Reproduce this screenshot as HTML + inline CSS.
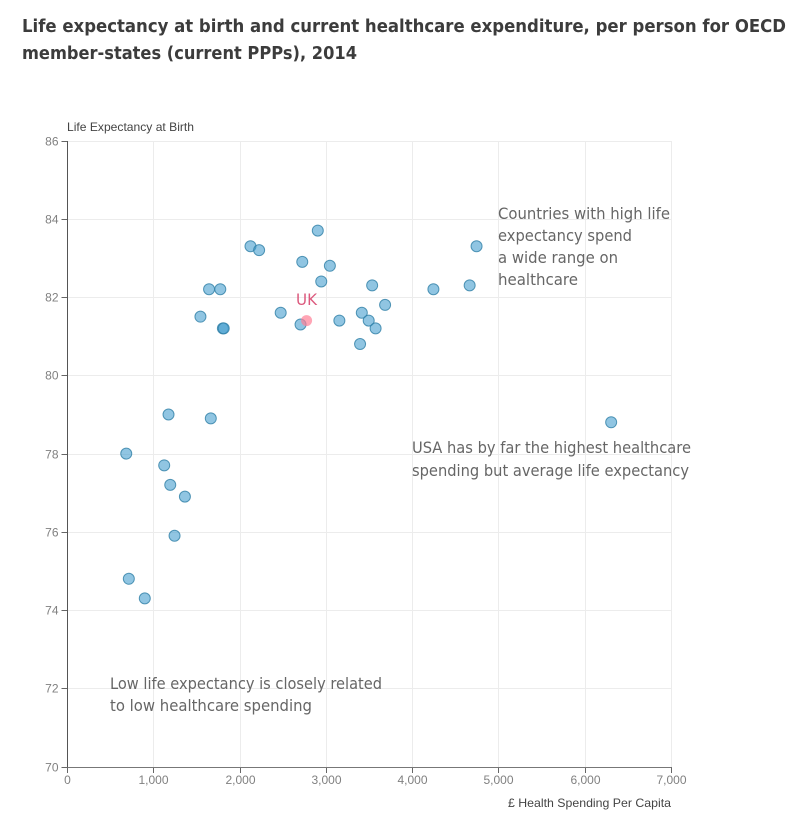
<!DOCTYPE html>
<html lang="en">
<head>
<meta charset="utf-8">
<title>Life expectancy and healthcare expenditure</title>
<style>
html,body{margin:0;padding:0;background:#fff;}
svg{display:block;}
.title{font-family:"DejaVu Sans","Liberation Sans",sans-serif;font-weight:700;font-size:18px;fill:#3c3c3c;}
.note{font-family:"DejaVu Sans","Liberation Sans",sans-serif;font-size:16px;fill:#666;}
.tick{font-family:"Liberation Sans",sans-serif;font-size:12px;fill:#808080;}
.axis-title{font-family:"Liberation Sans",sans-serif;font-size:12px;fill:#444;}
</style>
</head>
<body>
<svg id="chart" width="811" height="827" viewBox="0 0 811 827" xmlns="http://www.w3.org/2000/svg">
  <text class="title" x="22" y="32" textLength="764" lengthAdjust="spacingAndGlyphs">Life expectancy at birth and current healthcare expenditure, per person for OECD</text>
  <text class="title" x="22" y="59" textLength="335" lengthAdjust="spacingAndGlyphs">member-states (current PPPs), 2014</text>
  <g id="grid"></g>
  <g id="axes"></g>
  <g id="points"></g>
  <text class="axis-title" x="67" y="131" textLength="127" lengthAdjust="spacingAndGlyphs">Life Expectancy at Birth</text>
  <text class="axis-title" x="508" y="807" textLength="163" lengthAdjust="spacingAndGlyphs">£ Health Spending Per Capita</text>
  <g>
    <text class="note" x="498" y="219" textLength="172" lengthAdjust="spacingAndGlyphs">Countries with high life</text>
    <text class="note" x="498" y="241" textLength="134" lengthAdjust="spacingAndGlyphs">expectancy spend</text>
    <text class="note" x="498" y="263" textLength="120" lengthAdjust="spacingAndGlyphs">a wide range on</text>
    <text class="note" x="498" y="285" textLength="80" lengthAdjust="spacingAndGlyphs">healthcare</text>
  </g>
  <g>
    <text class="note" x="412" y="453" textLength="279" lengthAdjust="spacingAndGlyphs">USA has by far the highest healthcare</text>
    <text class="note" x="412" y="476" textLength="277" lengthAdjust="spacingAndGlyphs">spending but average life expectancy</text>
  </g>
  <g>
    <text class="note" x="110" y="689" textLength="272" lengthAdjust="spacingAndGlyphs">Low life expectancy is closely related</text>
    <text class="note" x="110" y="711" textLength="202" lengthAdjust="spacingAndGlyphs">to low healthcare spending</text>
  </g>
  <text class="note" x="296" y="305" textLength="21" lengthAdjust="spacingAndGlyphs" style="fill:#dc5a7e">UK</text>
</svg>
<script>
const xTicks = [0, 1000, 2000, 3000, 4000, 5000, 6000, 7000];
const yTicks = [70, 72, 74, 76, 78, 80, 82, 84, 86];
const spending = [690, 720, 905, 1130, 1180, 1200, 1250, 1370, 1550, 1650, 1670, 1780, 1810, 1820, 2130, 2230, 2480, 2710, 2730, 2910, 2950, 3050, 3160, 3400, 3420, 3500, 3540, 3580, 3690, 4250, 4670, 4750, 6310];
const lifeExpectancy = [78.0, 74.8, 74.3, 77.7, 79.0, 77.2, 75.9, 76.9, 81.5, 82.2, 78.9, 82.2, 81.2, 81.2, 83.3, 83.2, 81.6, 81.3, 82.9, 83.7, 82.4, 82.8, 81.4, 80.8, 81.6, 81.4, 82.3, 81.2, 81.8, 82.2, 82.3, 83.3, 78.8];
const ukSpending = [2780];
const ukLifeExpectancy = [81.4];

const NS = 'http://www.w3.org/2000/svg';
const left = 67.5, right = 671.5, top_ = 141, bottom = 767;
function xScale(v) { return left + (v - 0) / 7000 * (right - left); }
function yScale(v) { return bottom - (v - 70) / 16 * (bottom - top_); }
function make(tag, attrs, parent) {
  const el = document.createElementNS(NS, tag);
  for (const k in attrs) el.setAttribute(k, attrs[k]);
  parent.appendChild(el);
  return el;
}
const grid = document.getElementById('grid');
const axes = document.getElementById('axes');
const points = document.getElementById('points');

xTicks.forEach(function (t) {
  const x = Math.round(xScale(t) - 0.5) + 0.5;
  if (t > 0) {
    const g = make('line', {x1: x, x2: x, y1: top_, y2: bottom, stroke: '#ececec', 'stroke-width': 1}, grid);
    
    
  }
  const m = make('line', {x1: x, x2: x, y1: bottom, y2: bottom + 6, stroke: '#666', 'stroke-width': 1}, axes);
  
  
  const l = make('text', {x: x, y: bottom + 17, 'text-anchor': 'middle', 'class': 'tick'}, axes);
  l.textContent = t.toLocaleString('en-US');
  
  
});
yTicks.forEach(function (t) {
  const y = Math.floor(yScale(t)) + 0.5;
  if (t > 70) {
    const g = make('line', {x1: left, x2: right, y1: y, y2: y, stroke: '#ececec', 'stroke-width': 1}, grid);
    
    
  }
  const m = make('line', {x1: left - 6, x2: left, y1: y, y2: y, stroke: '#666', 'stroke-width': 1}, axes);
  
  
  const l = make('text', {x: left - 9, y: y + 4, 'text-anchor': 'end', 'class': 'tick'}, axes);
  l.textContent = t;
  
  
});
const yAxis = make('line', {x1: left, x2: left, y1: top_, y2: bottom + 0.5, stroke: '#555', 'stroke-width': 1}, axes);


const xAxis = make('line', {x1: left, x2: right, y1: bottom + 0.5, y2: bottom + 0.5, stroke: '#777', 'stroke-width': 1}, axes);



spending.forEach(function (v, i) {
  const c = make('circle', {cx: xScale(v) - 0.8, cy: yScale(lifeExpectancy[i]) - 0.4, r: 5.5, fill: '#3f9bcd', 'fill-opacity': 0.58, stroke: '#2f7fa6', 'stroke-opacity': 0.8, 'stroke-width': 1}, points);
  
  
});
ukSpending.forEach(function (v, i) {
  const c = make('circle', {cx: xScale(v) - 0.8, cy: yScale(ukLifeExpectancy[i]) - 0.4, r: 5.5, fill: '#ff7f96', 'fill-opacity': 0.7, stroke: 'none'}, points);
  
  
});
</script>
</body>
</html>
